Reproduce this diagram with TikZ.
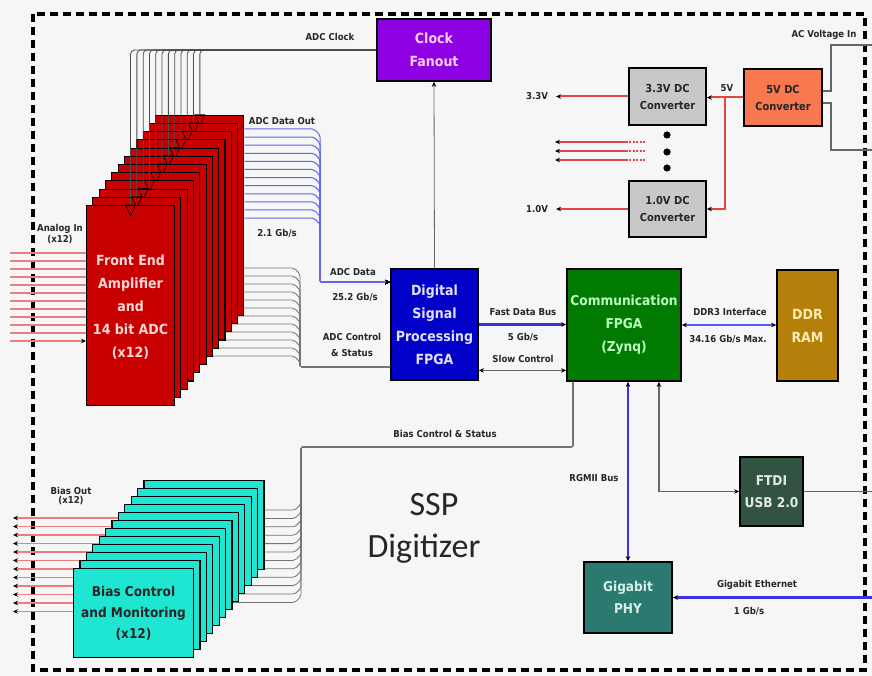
\documentclass[tikz,border=0pt]{standalone}
\usepackage{fontspec}
\setmainfont{DejaVu Sans}[FakeStretch=0.9]
\newfontfamily\calibfont{Carlito}
\usetikzlibrary{arrows.meta,calc}
\definecolor{bg}{RGB}{246,246,246}
\definecolor{clkpurple}{RGB}{140,0,225}
\definecolor{clktext}{RGB}{255,205,255}
\definecolor{dspblue}{RGB}{0,0,200}
\definecolor{dsptext}{RGB}{225,225,255}
\definecolor{commgreen}{RGB}{0,122,0}
\definecolor{commtext}{RGB}{190,255,190}
\definecolor{ddrgold}{RGB}{180,128,10}
\definecolor{ddrtext}{RGB}{255,235,180}
\definecolor{dcgrey}{RGB}{200,200,200}
\definecolor{fivev}{RGB}{250,120,80}
\definecolor{ftdigreen}{RGB}{50,82,66}
\definecolor{ftditext}{RGB}{225,235,230}
\definecolor{phyteal}{RGB}{42,122,112}
\definecolor{phytext}{RGB}{215,240,235}
\definecolor{adcred}{RGB}{200,0,0}
\definecolor{adctext}{RGB}{255,215,215}
\definecolor{biascyan}{RGB}{30,230,210}
\definecolor{pinkline}{RGB}{238,125,125}
\definecolor{pwrred}{RGB}{225,70,70}
\definecolor{busblue}{RGB}{60,50,220}
\definecolor{ddrblue}{RGB}{90,90,255}
\definecolor{datablue}{RGB}{100,100,240}
\tikzset{
 box/.style={draw=black,line width=1.8pt,align=center,inner sep=0pt,font=\bfseries\fontsize{14}{23}\selectfont},
 lbl/.style={font=\bfseries\fontsize{9.5}{11}\selectfont,text=black!85,inner sep=0pt},
 bigtxt/.style={font=\calibfont\fontsize{34}{42}\selectfont,text=black!85,inner sep=0pt},
 tipk/.style={-{Stealth[length=5pt,width=4.5pt,color=black]}},
 tipkk/.style={{Stealth[length=5pt,width=4.5pt,color=black]}-{Stealth[length=5pt,width=4.5pt,color=black]}},
 adclayer/.style={draw=black,line width=1.1pt,fill=adcred,minimum width=88pt,minimum height=200pt,anchor=north west,inner sep=0pt},
 biaslayer/.style={draw=black,line width=1.1pt,fill=biascyan,minimum width=120pt,minimum height=89pt,anchor=north west,inner sep=0pt},
 pwr/.style={color=pwrred,line width=2pt},
 pinkw/.style={color=pinkline,line width=1.1pt},
 bundle/.style={color=black!55,line width=0.8pt,rounded corners=2pt},
 clkw/.style={color=black!70,line width=0.8pt,rounded corners=4pt},
 dataw/.style={color=datablue,line width=1pt,rounded corners=2pt},
 wire/.style={color=black!60,line width=1.4pt},
 bus/.style={color=busblue,line width=2pt},
}
\begin{document}
\begin{tikzpicture}[x=1pt,y=-1pt]
\useasboundingbox (0,0) rectangle (872,676);
\fill[bg] (0,0) rectangle (872,676);
\draw[line width=3.5pt,dash pattern=on 8pt off 5pt] (33,14) rectangle (865,670);

% main boxes
\node[box,fill=clkpurple,text=clktext,minimum width=114pt,minimum height=62pt] (clk) at (434,50) {Clock\\Fanout};
\node[box,fill=dspblue,text=dsptext,minimum width=87pt,minimum height=111pt] (dsp) at (434.5,324.5) {Digital\\Signal\\Processing\\FPGA};
\node[box,fill=commgreen,text=commtext,minimum width=114pt,minimum height=112pt,font=\bfseries\fontsize{13.6}{23}\selectfont] (comm) at (624,325) {Communication\\FPGA\\(Zynq)};
\node[box,fill=ddrgold,text=ddrtext,minimum width=61pt,minimum height=111pt] (ddr) at (807.5,325.5) {DDR\\RAM};
\node[box,fill=dcgrey,text=black!85,font=\bfseries\fontsize{11}{17}\selectfont,minimum width=77pt,minimum height=57pt] (dc33) at (667.5,96.5) {3.3V DC\\Converter};
\node[box,fill=fivev,text=black!85,font=\bfseries\fontsize{11}{17}\selectfont,minimum width=78pt,minimum height=57pt] (dc5) at (783,97.5) {5V DC\\Converter};
\node[box,fill=dcgrey,text=black!85,font=\bfseries\fontsize{11}{17}\selectfont,minimum width=77pt,minimum height=56pt] (dc10) at (667.5,209) {1.0V DC\\Converter};
\node[box,fill=ftdigreen,text=ftditext,font=\bfseries\fontsize{13.5}{22}\selectfont,minimum width=63pt,minimum height=69pt] (ftdi) at (771.5,491.5) {FTDI\\USB 2.0};
\node[box,fill=phyteal,text=phytext,font=\bfseries\fontsize{13.5}{22}\selectfont,minimum width=88pt,minimum height=71pt] (phy) at (628,597.5) {Gigabit\\PHY};

% endpoints
\coordinate (adcdata) at ([yshift=-14pt]dsp.north west);
\coordinate (adcctl) at ([yshift=14pt]dsp.south west);
\coordinate (biasin) at ([xshift=7pt]comm.south west);
\coordinate (acin1) at (872,45);
\coordinate (acin2) at (872,150);
\coordinate (usbout) at (872,491.5);
\coordinate (ethin) at (872,597.5);
\coordinate (fivebr) at ($(dc5.west)!0.5!(dc33.east)$);

% lines hidden behind the stacks (drawn first)
\foreach \i in {0,...,11} {
  \pgfmathsetmacro\yy{268+8*\i}
  \draw[bundle] (160,\yy) -- (294,\yy) -- (300,{\yy+6}) |- (adcctl);
}
\foreach \i in {0,...,11} {
  \pgfmathsetmacro\yy{510+8.4*\i}
  \draw[bundle] (200,\yy) -- (295,\yy) -- (301,{\yy-6}) -- (301,447) -| (biasin);
}
\foreach \i in {0,...,11} {
  \pgfmathsetmacro\yy{518+8.5*\i}
  \draw[pinkw,tipk] (150,\yy) -- (13,\yy);
}

% ADC stack
\foreach \k in {11,10,...,0} {
  \node[adclayer] (adc\k) at ({86+6.3*\k},{205-8.2*\k}) {};
  \draw[black,line width=0.7pt] ([xshift=-5pt]adc\k.north) -- ([xshift=5pt]adc\k.north) -- ([yshift=-11pt]adc\k.north) -- cycle;
}
\node[font=\bfseries\fontsize{14}{23}\selectfont,text=adctext,align=center,inner sep=0pt] (adctxt) at ([yshift=-2pt]adc0.center) {Front End\\Amplifier\\and\\14 bit ADC\\(x12)};

% Bias stack
\foreach \k in {11,10,...,0} {
  \node[biaslayer] (bias\k) at ({73+6.4*\k},{568-8*\k}) {};
}
\node[font=\bfseries\fontsize{13.5}{21}\selectfont,text=black!85,align=center,inner sep=0pt] (biastxt) at (bias0.center) {Bias Control\\and Monitoring\\(x12)};

% clock lines
\foreach \k in {0,...,11} {
  \draw[clkw] (adc\k.north) |- (clk.west);
}
% ADC data out
\foreach \i in {0,...,11} {
  \pgfmathsetmacro\yy{129+8.1*\i}
  \draw[dataw,tipk] (adc11.east |- 0,\yy) -- (314,\yy) -- (320,{\yy+6}) |- (adcdata);
}
% analog in
\foreach \i in {0,...,10} {
  \pgfmathsetmacro\yy{253+8*\i}
  \draw[pinkw] (10,\yy) -- (adc0.west |- 0,\yy);
}
\draw[pinkw,tipk] (10,341) -- (adc0.west |- 0,341);

% connectors
\draw[color=black!60,line width=0.8pt,tipk] (dsp.north) -- (clk.south);
\draw[bus,line width=2.2pt,tipk] (dsp.east) -- (dsp.east -| comm.west);
\draw[wire,tipkk] ([yshift=10.5pt]dsp.south east) -- ([yshift=10.5pt]dsp.south east -| comm.west);
\draw[color=ddrblue,line width=2pt,tipkk] (comm.east) -- (comm.east -| ddr.west);
\draw[bus,line width=1.6pt,tipkk] (phy.north) -- (phy.north |- comm.south);
\draw[wire,tipkk] ([xshift=-23pt]comm.south east) |- (ftdi.west);
\draw[wire] (ftdi.east) -- (usbout);
\draw[bus,line width=2.2pt,tipk] (ethin) -- (phy.east);

% power
\draw[pwr,tipk] (dc5.west) -- (dc5.west -| dc33.east);
\draw[pwr,tipk] (fivebr) |- (dc10.east);
\draw[pwr,tipk] (dc33.west) -- ++(-72,0) coordinate (o33);
\draw[pwr,tipk] (dc10.west) -- ++(-72,0) coordinate (o10);
\foreach \i/\yy in {1/142,2/151,3/160} {
  \coordinate (pa\i) at (645,\yy);
  \coordinate (pb\i) at (628,\yy);
  \coordinate (pc\i) at (555,\yy);
  \draw[pwr,line width=1.8pt,tipk] (pb\i) -- (pc\i);
  \draw[pwr,line width=1.5pt,dash pattern=on 2pt off 1.5pt] (pa\i) -- (pb\i);
}
\foreach \i/\yy in {1/135,2/152,3/168} {
  \fill[black] (667,\yy) circle (3.6pt);
}
\draw[wire,line width=1.3pt] ([yshift=6.5pt]dc5.east) -- ++(8,0) |- (acin1);
\draw[wire,line width=1.3pt] ([yshift=-5.5pt]dc5.east) -- ++(8,0) |- (acin2);

% labels
\node[lbl] (lclk) at (330,37) {ADC Clock};
\node[lbl] (ldout) at (282,121) {ADC Data Out};
\node[lbl] (l21) at (277,233) {2.1 Gb/s};
\node[lbl,align=center,font=\bfseries\fontsize{9.5}{11}\selectfont] (lain) at (60,234) {Analog In\\(x12)};
\node[lbl] (ldata) at (353,272) {ADC Data};
\node[lbl] (l252) at (355,297) {25.2 Gb/s};
\node[lbl,align=center,font=\bfseries\fontsize{9.5}{16}\selectfont] (lctl) at (352,345) {ADC Control\\\& Status};
\node[lbl] (lfdb) at (523,312) {Fast Data Bus};
\node[lbl] (l5g) at (523,337) {5 Gb/s};
\node[lbl] (lslow) at (523,359) {Slow Control};
\node[lbl] (lddr) at (730,312) {DDR3 Interface};
\node[lbl] (lddrr) at (728,339) {34.16 Gb/s Max.};
\node[lbl] (lbcs) at (445,434) {Bias Control \& Status};
\node[lbl] (lrg) at (594,478) {RGMII Bus};
\node[lbl] (lac) at (824,35) {AC Voltage In};
\node[lbl] (l5v) at (727,88) {5V};
\node[lbl,anchor=east] (l33) at ([xshift=-8pt]o33) {3.3V};
\node[lbl,anchor=east] (l10) at ([xshift=-8pt]o10) {1.0V};
\node[lbl] (lge) at (757,585) {Gigabit Ethernet};
\node[lbl] (l1g) at (749,611) {1 Gb/s};
\node[lbl,align=center,font=\bfseries\fontsize{9.5}{9}\selectfont] (lbo) at (71,496) {Bias Out\\(x12)};
\node[bigtxt] (lssp) at (434,505) {SSP};
\node[bigtxt] (ldig) at (424,549) {Digitizer};
\end{tikzpicture}
\end{document}
